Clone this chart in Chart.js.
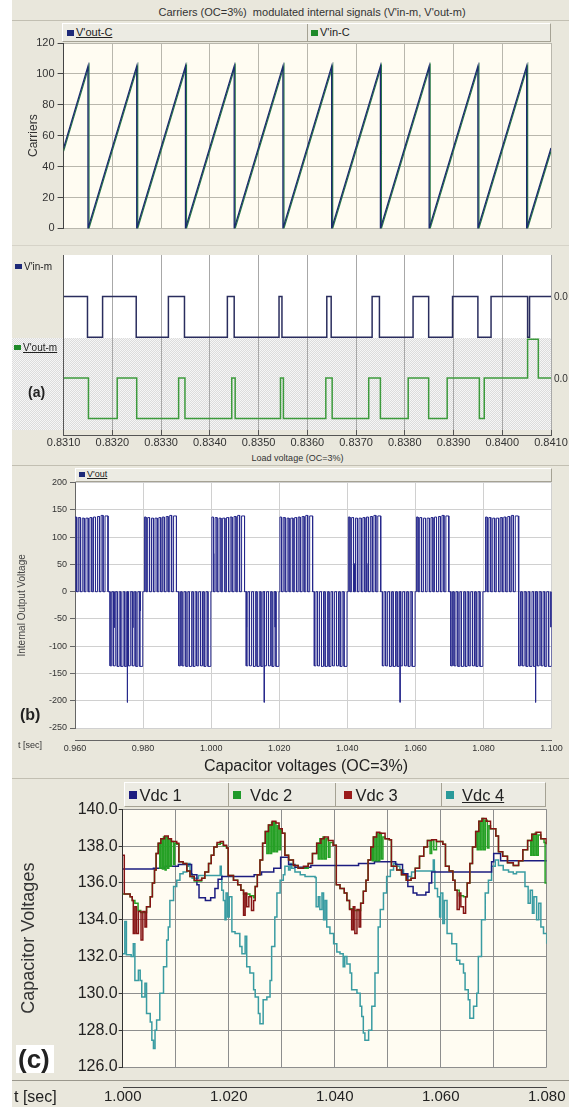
<!DOCTYPE html>
<html>
<head>
<meta charset="utf-8">
<title>Carriers, load voltage and capacitor voltages (OC=3%)</title>
<script src="https://cdn.jsdelivr.net/npm/chart.js@4.4.1/dist/chart.umd.min.js"></script>
<style>
  html, body { margin: 0; padding: 0; background: #fff; overflow: hidden; }
  body { position: relative; width: 569px; height: 1107px; font-family: 'Liberation Sans', Arial, sans-serif; color: #222; }
  .bg { position: absolute; background: #e9e7dc; }
  .hline { position: absolute; height: 1px; background: #c2bfb2; }
  canvas { position: absolute; }
  .legend { position: absolute; background: #ecebe3; box-sizing: border-box;
            border-top: 1px solid #fff; border-left: 1px solid #fff;
            border-bottom: 1px solid #a5a294; border-right: 1px solid #a5a294; }
  .cell { position: absolute; top: 0; bottom: 0; border-right: 1px solid #a5a294; }
  .sw { position: absolute; }
  .txt { position: absolute; white-space: nowrap; line-height: 1; }
  .u { text-decoration: underline; }
  .dots { position: absolute; background: repeating-conic-gradient(#dcdcdc 0 25%, #f6f6f6 0 50%) 0 0 / 2px 2px; }
</style>
</head>
<body>

<!-- panel (a) backgrounds -->
<div class="bg" style="left:12px;top:0;width:557px;height:245px;"></div>
<div class="hline" style="left:12px;top:20px;width:557px;"></div>
<div class="bg" style="left:12px;top:245px;width:557px;height:207px;"></div>
<div class="hline" style="left:12px;top:245px;width:557px;background:#d6d3c8;"></div>
<div style="position:absolute;left:63.6px;top:255px;width:487.4px;height:83px;background:#fff;"></div>
<div class="dots" style="left:12px;top:338px;width:539px;height:92px;"></div>
<div style="position:absolute;left:63.6px;top:435px;width:487.4px;height:1px;background:#555;"></div>

<!-- panel (b) backgrounds -->
<div class="bg" style="left:12px;top:452px;width:557px;height:300px;"></div>
<div class="hline" style="left:12px;top:465px;width:557px;"></div>
<div style="position:absolute;left:75px;top:740px;width:476.6px;height:1px;background:#666;"></div>

<!-- panel (c) backgrounds -->
<div class="bg" style="left:12px;top:752px;width:557px;height:355px;"></div>
<div class="hline" style="left:12px;top:778px;width:557px;"></div>
<div class="hline" style="left:12px;top:1080px;width:557px;background:#9a978c;"></div>
<div style="position:absolute;left:122.7px;top:1087px;width:424px;height:1px;background:#444;"></div>

<canvas id="carriers" width="569" height="208" style="left:0;top:30px;"></canvas>
<canvas id="modulated" width="569" height="200" style="left:0;top:250px;"></canvas>
<canvas id="load" width="569" height="282" style="left:0;top:470px;"></canvas>
<canvas id="caps" width="569" height="312" style="left:0;top:795px;"></canvas>

<!-- panel (a) texts -->
<div class="txt" style="left:62px;width:500px;text-align:center;top:7px;font-size:11px;color:#333;">Carriers (OC=3%)&nbsp; modulated internal signals (V'in-m, V'out-m)</div>
<div class="legend" style="left:62px;top:23px;width:489px;height:19px;">
  <div class="cell" style="left:0;width:244px;"></div>
  <div class="sw" style="left:4px;top:6px;width:7px;height:6px;background:#1e2a78;"></div>
  <div class="txt u" style="left:13px;top:3px;font-size:11px;">V'out-C</div>
  <div class="sw" style="left:248px;top:6px;width:7px;height:6px;background:#1f8a2a;"></div>
  <div class="txt" style="left:257px;top:3px;font-size:11px;">V'in-C</div>
</div>
<div class="sw" style="left:15px;top:264px;width:7px;height:5px;background:#1e2a78;"></div>
<div class="txt" style="left:24px;top:262px;font-size:10px;">V'in-m</div>
<div class="sw" style="left:14px;top:345px;width:7px;height:5px;background:#1f8a2a;"></div>
<div class="txt u" style="left:23px;top:343px;font-size:10px;">V'out-m</div>
<div class="txt" style="left:28px;top:385px;font-size:14px;font-weight:bold;">(a)</div>
<div class="txt" style="left:554px;top:292px;font-size:10px;color:#333;">0.0</div>
<div class="txt" style="left:554px;top:374px;font-size:10px;color:#333;">0.0</div>

<!-- panel (b) texts -->
<div class="txt" style="left:97.5px;width:400px;text-align:center;top:454px;font-size:9px;color:#333;">Load voltage (OC=3%)</div>
<div class="legend" style="left:75px;top:468px;width:477px;height:14px;">
  <div class="sw" style="left:3px;top:3px;width:6px;height:5px;background:#1e2a78;"></div>
  <div class="txt u" style="left:11px;top:1px;font-size:9px;">V'out</div>
</div>
<div class="txt" style="left:20px;top:707px;font-size:16px;font-weight:bold;">(b)</div>
<div class="txt" style="left:18px;top:741px;font-size:9px;color:#333;">t [sec]</div>

<!-- panel (c) texts -->
<div class="txt" style="left:106px;width:400px;text-align:center;top:758px;font-size:16px;color:#222;">Capacitor voltages (OC=3%)</div>
<div class="legend" style="left:123.6px;top:782px;width:422px;height:25px;">
  <div class="cell" style="left:0;width:103.4px;"></div>
  <div class="cell" style="left:103.4px;width:106.8px;"></div>
  <div class="cell" style="left:210.2px;width:106.2px;"></div>
  <div class="sw" style="left:4.4px;top:8px;width:8px;height:8px;background:#1c1c80;"></div>
  <div class="txt" style="left:15px;top:4px;font-size:16.5px;">Vdc 1</div>
  <div class="sw" style="left:108.6px;top:8px;width:8px;height:8px;background:#1f9a2a;"></div>
  <div class="txt" style="left:125.4px;top:4px;font-size:16.5px;">Vdc 2</div>
  <div class="sw" style="left:219px;top:8px;width:8px;height:8px;background:#9a1a1a;"></div>
  <div class="txt" style="left:230.9px;top:4px;font-size:16.5px;">Vdc 3</div>
  <div class="sw" style="left:321.4px;top:8px;width:8px;height:8px;background:#2a9a9a;"></div>
  <div class="txt u" style="left:337.4px;top:4px;font-size:16.5px;">Vdc 4</div>
</div>
<div style="position:absolute;left:16px;top:1045px;width:38px;height:28px;background:#fff;"></div>
<div class="txt" style="left:18px;top:1046px;font-size:26px;font-weight:bold;">(c)</div>
<div class="txt" style="left:14px;top:1089px;font-size:16px;color:#222;">t [sec]</div>

<script>
// ---- (a) carriers, time in seconds ----
const carrierT    = [0.8310, 0.8315, 0.8315, 0.8325, 0.8325, 0.8335, 0.8335, 0.8345, 0.8345, 0.8355, 0.8355,
                     0.8365, 0.8365, 0.8375, 0.8375, 0.8385, 0.8385, 0.8395, 0.8395, 0.8405, 0.8405, 0.8410];
const outCarrierV = [52, 105, 0, 105, 0, 105, 0, 105, 0, 105, 0, 105, 0, 105, 0, 105, 0, 105, 0, 105, 0, 52];
const inCarrierT  = [0.8310, 0.83152, 0.83152, 0.83252, 0.83252, 0.83352, 0.83352, 0.83452, 0.83452, 0.83552, 0.83552,
                     0.83652, 0.83652, 0.83752, 0.83752, 0.83852, 0.83852, 0.83952, 0.83952, 0.84052, 0.84052, 0.8410];
const inCarrierV  = [50, 105, 0, 105, 0, 105, 0, 105, 0, 105, 0, 105, 0, 105, 0, 105, 0, 105, 0, 105, 0, 50];

// ---- (a) modulated signals: edge times and level after each edge ----
const vinT      = [0.8310, 0.83149, 0.83180, 0.83249, 0.83315, 0.83348, 0.83436, 0.83450, 0.83542, 0.83548, 0.83640,
                   0.83649, 0.83733, 0.83748, 0.83817, 0.83849, 0.83898, 0.83950, 0.83977, 0.84052, 0.84056, 0.8410];
const vinLevel  = [3, 2, 3, 2, 3, 2, 3, 2, 3, 2, 3, 2, 3, 2, 3, 2, 3, 2, 3, 2, 3, 3];
const voutT     = [0.8310, 0.83151, 0.83210, 0.83250, 0.83336, 0.83349, 0.83445, 0.83452, 0.83545, 0.83551, 0.83638,
                   0.83651, 0.83726, 0.83750, 0.83807, 0.83849, 0.83887, 0.83953, 0.83963, 0.84052, 0.84074, 0.8410];
const voutLevel = [1, 0, 1, 0, 1, 0, 1, 0, 1, 0, 1, 0, 1, 0, 1, 0, 1, 0, 1, 1.95, 1, 1];

// ---- (b) load voltage: half-cycle blocks and the pulse pattern inside them ----
const blockStart = [0.9600, 0.9703, 0.9804, 0.9905, 1.0002, 1.0103, 1.0202, 1.0303, 1.0403, 1.0503, 1.0603, 1.0704, 1.0806, 1.0904];
const blockEnd   = [0.9697, 0.9799, 0.9898, 0.9999, 1.0098, 1.0199, 1.0298, 1.0399, 1.0498, 1.0599, 1.0698, 1.0798, 1.0902, 1.1000];
const blockSign  = [1, -1, 1, -1, 1, -1, 1, -1, 1, -1, 1, -1, 1, -1];
const pulseOn    = [0.00, 0.10, 0.22, 0.33, 0.45, 0.56, 0.68, 0.79, 0.91];
const pulseOff   = [0.05, 0.16, 0.28, 0.40, 0.51, 0.62, 0.74, 0.85, 1.00];
const posLevel   = [137, 136, 135, 135, 136, 137, 138, 140, 139];
const negLevel   = [136, 136, 137, 137, 137, 136, 136, 137, 137];
const spikeT     = [0.9715, 0.9754, 0.9770, 0.9792, 1.0008, 1.0104, 1.0156, 1.0188, 1.0421, 1.0458, 1.0555, 1.0953, 1.0998];
const spikeV     = [-66, -203, -66, -35, 70, -65, -203, -65, 52, 52, -203, -203, -65];

// ---- (c) capacitor voltages, time in ms after 1.000 s ----
const capT0 = 1.000;
const vdc1Ms = [0, 5.8, 8.0, 10.5, 13.0, 14.0, 14.4, 15.6, 16.6, 17.4,
                18.0, 18.7, 24.8, 26.2, 28.5, 29.8, 31.3, 32.5, 35.5, 44.5,
                47.5, 51.5, 52.8, 53.8, 54.8, 55.5, 57.2, 57.8, 58.3, 69.6,
                70.0, 71.3, 80.0];
const vdc1V  = [136.75, 136.8, 136.9, 137.0, 136.45, 135.9, 135.2, 135.05, 135.2, 135.7,
                136.2, 136.35, 136.45, 136.6, 136.8, 137.4, 137.0, 136.85, 136.95, 137.05,
                137.15, 137.0, 136.5, 135.8, 135.45, 135.35, 135.5, 136.0, 136.6, 137.15,
                137.6, 137.2, 137.2];

const vdc2Ms = [0, 1.4, 1.8, 2.3, 2.9, 3.4, 4.5, 5.2, 5.6, 6.0,
                6.3, 6.7, 7.0, 7.2, 7.5, 7.7, 8.0, 8.2, 8.5, 8.7,
                9.0, 9.2, 9.6, 9.8, 10.2, 10.6, 11.4, 12.1, 12.7, 13.5,
                14.9, 15.5, 16.2, 16.7, 17.2, 17.8, 18.4, 19.0, 19.6, 19.9,
                20.9, 21.7, 22.3, 22.8, 24.0, 24.7, 25.0, 25.4, 25.9, 26.4,
                26.9, 27.2, 27.5, 27.8, 28.1, 28.4, 28.6, 28.9, 29.2, 29.5,
                29.8, 30.1, 30.6, 31.3, 32.2, 33.1, 34.1, 35.0, 35.8, 36.6,
                36.9, 37.2, 37.5, 37.8, 38.1, 38.4, 38.8, 39.1, 39.7, 40.3,
                41.0, 41.8, 42.3, 42.8, 43.5, 44.5, 44.9, 45.4, 45.9, 46.3,
                46.8, 47.1, 47.3, 47.6, 47.9, 48.2, 48.5, 48.8, 49.1, 49.5,
                50.3, 50.7, 51.7, 52.6, 53.5, 54.4, 55.2, 56.0, 56.8, 57.5,
                58.0, 58.3, 58.7, 59.2, 60.4, 60.9, 61.6, 62.3, 62.7, 63.5,
                64.3, 64.7, 65.0, 65.5, 66.0, 66.6, 66.9, 67.2, 67.5, 67.8,
                68.1, 68.4, 68.8, 69.1, 69.4, 70.4, 70.9, 71.7, 72.6, 73.7,
                74.7, 75.5, 76.4, 77.0, 77.2, 77.5, 77.8, 78.1, 78.4, 78.9,
                79.5, 79.7, 80.0];
const vdc2V  = [135.4, 135.25, 135.05, 134.9, 134.5, 134.4, 134.7, 135.25, 136.0, 136.7,
                137.6, 138.15, 136.8, 138.4, 136.75, 138.5, 136.7, 138.5, 136.8, 138.4,
                136.9, 138.25, 137.0, 138.15, 138.1, 137.15, 137.05, 136.65, 136.35, 136.1,
                136.25, 136.6, 137.05, 137.5, 137.95, 138.1, 138.15, 138.0, 137.9, 136.4,
                136.15, 135.9, 135.6, 135.4, 135.3, 135.2, 135.8, 136.45, 137.25, 138.15,
                138.8, 137.6, 139.15, 137.6, 139.3, 137.7, 139.3, 137.7, 139.1, 137.8,
                138.9, 138.7, 137.5, 137.25, 136.95, 136.8, 136.8, 137.05, 137.6, 138.15,
                137.3, 138.4, 137.3, 138.5, 137.3, 138.4, 137.4, 138.2, 138.05, 135.9,
                135.7, 135.45, 135.05, 134.6, 134.5, 134.5, 134.9, 135.55, 136.15, 137.25,
                137.95, 137.2, 138.5, 137.2, 138.7, 137.2, 138.7, 137.3, 138.5, 138.4,
                138.35, 136.9, 136.7, 136.45, 136.15, 136.25, 136.8, 137.45, 137.95, 138.3,
                137.6, 138.35, 137.8, 138.25, 138.1, 136.9, 136.65, 136.15, 135.6, 135.3,
                135.25, 135.25, 136.0, 137.05, 137.95, 138.8, 137.8, 139.35, 137.8, 139.5,
                137.8, 139.4, 137.9, 139.1, 138.95, 138.55, 137.7, 137.45, 137.1, 136.95,
                137.2, 137.8, 138.3, 137.5, 138.65, 137.5, 138.7, 137.5, 138.6, 138.4,
                138.2, 136.0, 136.0];

const vdc3Ms = [0, 0.3, 1.4, 1.8, 2.0, 2.3, 2.6, 2.96, 3.46, 3.8,
                4.2, 4.5, 5.2, 5.6, 6.0, 6.3, 6.7, 7.2, 7.9, 8.6,
                9.2, 10.2, 10.6, 11.4, 12.1, 12.7, 13.5, 14.9, 15.5, 16.2,
                16.7, 17.2, 17.8, 18.4, 19.0, 19.6, 19.9, 20.9, 21.7, 22.3,
                22.8, 23.1, 23.4, 23.8, 24.3, 24.7, 25.0, 25.4, 25.9, 26.4,
                26.9, 27.5, 28.2, 28.9, 29.5, 30.1, 30.6, 31.3, 32.2, 33.1,
                34.1, 35.0, 35.8, 36.6, 37.4, 38.0, 38.8, 39.7, 40.3, 41.0,
                41.8, 42.3, 42.8, 43.2, 43.5, 43.8, 44.2, 44.6, 44.9, 45.4,
                45.9, 46.3, 46.8, 47.3, 47.9, 48.5, 49.5, 50.3, 50.7, 51.7,
                52.6, 53.5, 54.4, 55.2, 56.0, 56.8, 57.5, 58.3, 59.2, 60.4,
                60.9, 61.6, 62.3, 62.7, 63.1, 63.5, 63.8, 64.3, 64.7, 65.0,
                65.5, 66.0, 66.6, 67.2, 67.8, 68.6, 69.4, 70.4, 70.9, 71.7,
                72.6, 73.7, 74.7, 75.5, 76.4, 77.2, 78.0, 78.9, 79.9, 80.0];
const vdc3V  = [137.5, 135.4, 135.25, 135.05, 133.25, 134.7, 133.25, 134.45, 132.9, 134.45,
                133.6, 134.7, 135.25, 136.0, 136.7, 137.6, 138.15, 138.4, 138.55, 138.4,
                138.25, 138.15, 137.15, 137.05, 136.65, 136.35, 136.15, 136.25, 136.6, 137.05,
                137.5, 137.95, 138.2, 138.25, 138.05, 137.9, 136.4, 136.15, 135.9, 135.6,
                134.25, 135.45, 134.7, 135.25, 134.5, 135.05, 135.8, 136.45, 137.25, 138.15,
                138.8, 139.15, 139.35, 139.25, 138.95, 138.7, 137.5, 137.25, 136.95, 136.8,
                136.9, 137.05, 137.6, 138.15, 138.4, 138.5, 138.3, 138.05, 135.9, 135.7,
                135.45, 135.05, 134.55, 133.45, 134.7, 133.25, 134.55, 133.6, 134.9, 135.55,
                136.15, 137.25, 137.95, 138.5, 138.75, 138.7, 138.4, 138.35, 136.9, 136.7,
                136.45, 136.15, 136.25, 136.8, 137.45, 137.95, 138.3, 138.35, 138.25, 138.1,
                136.9, 136.65, 136.15, 135.6, 134.55, 135.45, 134.7, 134.35, 135.25, 136.0,
                137.05, 137.95, 138.8, 139.35, 139.5, 139.35, 138.95, 138.55, 137.7, 137.45,
                137.1, 136.95, 137.2, 137.8, 138.3, 138.65, 138.75, 138.4, 138.15, 138.1];

const vdc4Ms = [0, 0.4, 0.7, 1.6, 2.0, 2.3, 2.96, 3.3, 3.6, 4.2,
                4.5, 5.2, 5.5, 5.8, 6.1, 6.4, 7.0, 7.7, 8.3, 8.6,
                8.9, 9.6, 10.2, 10.8, 11.4, 12.1, 12.4, 12.7, 13.1, 14.3,
                18.4, 18.6, 18.7, 19.0, 19.3, 19.5, 19.8, 20.1, 20.6, 21.2,
                22.1, 22.5, 23.1, 23.4, 24.0, 24.7, 25.0, 25.6, 25.9, 26.5,
                27.2, 27.8, 28.1, 28.7, 29.1, 29.7, 30.3, 30.6, 31.3, 31.6,
                31.9, 32.5, 33.5, 34.4, 36.3, 36.5, 36.9, 37.2, 37.6, 37.9,
                38.2, 38.5, 39.1, 39.8, 40.4, 41.0, 41.6, 41.9, 42.3, 42.9,
                43.2, 44.2, 44.8, 45.1, 45.4, 45.7, 46.4, 47.0, 47.6, 48.2,
                48.6, 49.2, 49.8, 50.5, 51.1, 51.7, 52.3, 53.0, 53.6, 54.5,
                55.2, 58.6, 58.8, 58.9, 59.4, 59.8, 60.0, 60.4, 60.7, 61.2,
                62.1, 63.0, 63.6, 64.3, 64.6, 65.2, 65.5, 66.2, 66.8, 67.1,
                67.7, 68.4, 69.0, 69.6, 70.3, 70.9, 71.8, 72.8, 73.7, 74.3,
                75.9, 76.5, 76.9, 77.3, 77.6, 78.1, 78.5, 78.9, 79.4, 80.0];
const vdc4V  = [132.15, 133.9, 132.1, 132.0, 132.7, 130.7, 131.25, 130.7, 129.8, 130.55,
                128.9, 128.45, 127.45, 127.0, 128.0, 128.55, 130.0, 131.45, 132.9, 133.6,
                135.05, 135.8, 136.15, 136.5, 136.6, 136.9, 137.05, 136.5, 136.25, 136.4,
                136.9, 136.4, 135.6, 135.05, 134.0, 135.45, 134.15, 135.25, 133.35, 133.25,
                132.55, 132.15, 133.1, 131.45, 131.1, 130.2, 129.8, 128.9, 128.35, 129.65,
                129.8, 130.7, 132.55, 134.15, 135.45, 136.15, 136.45, 136.9, 136.7, 137.05,
                136.8, 136.6, 136.45, 136.35, 136.3, 134.7, 135.25, 134.55, 135.45, 134.0,
                135.05, 133.6, 133.25, 132.7, 132.25, 132.15, 131.45, 132.0, 131.6, 131.1,
                130.2, 130.0, 129.3, 128.75, 127.85, 127.45, 128.0, 129.3, 131.1, 133.6,
                134.55, 135.45, 136.35, 136.7, 137.05, 136.9, 136.7, 136.5, 136.35, 136.6,
                136.65, 137.25, 136.65, 135.7, 135.25, 134.15, 135.45, 133.8, 135.05, 133.25,
                132.7, 131.8, 131.6, 131.1, 130.2, 129.65, 128.65, 129.3, 130.0, 132.0,
                134.0, 135.45, 136.15, 136.9, 137.25, 136.95, 136.7, 136.6, 136.5, 136.6,
                135.8, 134.9, 135.6, 134.35, 135.25, 134.0, 134.9, 133.6, 133.25, 132.7];

Chart.defaults.font.family = "'Liberation Sans', Arial, sans-serif";
Chart.defaults.color = '#333';
Chart.defaults.animation = false;
Chart.defaults.responsive = false;
Chart.defaults.plugins.legend.display = false;
Chart.defaults.plugins.tooltip.enabled = false;
Chart.defaults.elements.point.radius = 0;
Chart.defaults.elements.line.tension = 0;

// fills the plot area before the grid is drawn
const plotBg = {
    id: 'plotBg',
    beforeDraw(chart, args, opts) {
        if (!opts.color) return;
        const a = chart.chartArea;
        const ctx = chart.ctx;
        ctx.save();
        ctx.fillStyle = opts.color;
        ctx.fillRect(a.left, a.top, a.right - a.left, a.bottom - a.top);
        ctx.restore();
    }
};

function pts(ts, vs) {
    return ts.map((t, i) => ({ x: t, y: vs[i] }));
}
function capPts(ms, vs) {
    return ms.map((m, i) => ({ x: capT0 + m / 1000, y: vs[i] }));
}

// (b) build the pulse train from the blocks
const loadPts = [];
blockStart.forEach((t0, i) => {
    const len = blockEnd[i] - t0;
    const levels = blockSign[i] > 0 ? posLevel : negLevel;
    loadPts.push({ x: t0, y: 0 });
    pulseOn.forEach((f, k) => {
        const a = t0 + f * len;
        const b = t0 + pulseOff[k] * len;
        const v = blockSign[i] * levels[k];
        loadPts.push({ x: a, y: 0 }, { x: a, y: v }, { x: b, y: v }, { x: b, y: 0 });
    });
});
const spikePts = [];
spikeT.forEach((t, i) => {
    spikePts.push({ x: t, y: 0 }, { x: t, y: spikeV[i] }, { x: t, y: null });
});

// ---------- (a) carriers ----------
new Chart(document.getElementById('carriers'), {
    type: 'line',
    data: {
        datasets: [
            { label: "V'out-C", data: pts(carrierT, outCarrierV), borderColor: '#1b2a6e', borderWidth: 1.3 },
            { label: "V'in-C", data: pts(inCarrierT, inCarrierV), borderColor: '#2a7a48', borderWidth: 1.3 }
        ]
    },
    options: {
        layout: { padding: { left: 22, right: 18, top: 13, bottom: 0 } },
        scales: {
            x: {
                type: 'linear', min: 0.831, max: 0.841,
                ticks: { display: false, stepSize: 0.001 },
                grid: { color: '#b9b7ad', drawTicks: false },
                border: { display: false },
                afterFit: s => { s.height = 5; }
            },
            y: {
                min: 0, max: 120,
                ticks: { stepSize: 20, font: { size: 11 }, color: '#333', padding: 3 },
                grid: { color: '#b9b7ad', tickLength: 6, tickColor: '#444' },
                border: { color: '#444' },
                title: { display: true, text: 'Carriers', font: { size: 12 }, color: '#333' },
                afterFit: s => { s.width = 41.6; }
            }
        },
        plugins: { plotBg: { color: '#fffcf2' } }
    },
    plugins: [plotBg]
});

// ---------- (a) modulated signals ----------
new Chart(document.getElementById('modulated'), {
    type: 'line',
    data: {
        datasets: [
            { label: "V'in-m", data: pts(vinT, vinLevel), borderColor: '#2a2d5e', borderWidth: 1.5, stepped: true },
            { label: "V'out-m", data: pts(voutT, voutLevel), borderColor: '#3c9a3c', borderWidth: 1.5, stepped: true }
        ]
    },
    options: {
        layout: { padding: { left: 0, right: 18, top: 5, bottom: 0 } },
        scales: {
            x: {
                type: 'linear', min: 0.831, max: 0.841,
                ticks: { stepSize: 0.001, callback: v => v.toFixed(4), font: { size: 11 }, color: '#333',
                         padding: 0, maxRotation: 0, autoSkip: false },
                grid: { color: '#a8a8a8', tickLength: 6, tickColor: '#555' },
                border: { display: false },
                afterFit: s => { s.height = 20; }
            },
            y: {
                min: -0.28, max: 4.02,
                ticks: { display: false },
                grid: { drawOnChartArea: false, drawTicks: false },
                border: { color: '#555' },
                afterFit: s => { s.width = 63.6; }
            }
        }
    }
});

// ---------- (b) load voltage ----------
new Chart(document.getElementById('load'), {
    type: 'line',
    data: {
        datasets: [
            { label: "V'out", data: loadPts, borderColor: '#26288c', borderWidth: 1 },
            { label: 'spikes', data: spikePts, borderColor: '#26288c', borderWidth: 1, spanGaps: false }
        ]
    },
    options: {
        layout: { padding: { left: 12, right: 17.4, top: 12.7, bottom: 0 } },
        scales: {
            x: {
                type: 'linear', min: 0.96, max: 1.10,
                ticks: { stepSize: 0.02, callback: v => v.toFixed(3), font: { size: 9 }, color: '#333',
                         padding: 3, maxRotation: 0, autoSkip: false },
                grid: { color: '#d0d0d0', tickLength: 12, tickColor: 'rgba(0,0,0,0)' },
                border: { display: false },
                afterFit: s => { s.height = 24; }
            },
            y: {
                min: -250, max: 200,
                ticks: { stepSize: 50, font: { size: 9 }, color: '#333', padding: 3 },
                grid: { color: '#d0d0d0', tickLength: 5, tickColor: '#666' },
                border: { color: '#666' },
                title: { display: true, text: 'Internal Output Voltage', font: { size: 10 }, color: '#444' },
                afterFit: s => { s.width = 63; }
            }
        },
        plugins: { plotBg: { color: '#ffffff' } }
    },
    plugins: [plotBg]
});

// ---------- (c) capacitor voltages ----------
// order: red over green, navy over teal
new Chart(document.getElementById('caps'), {
    type: 'line',
    data: {
        datasets: [
            { label: 'Vdc 1', data: capPts(vdc1Ms, vdc1V), borderColor: '#1c1c80', borderWidth: 1.5, stepped: true, order: 2 },
            { label: 'Vdc 2', data: capPts(vdc2Ms, vdc2V), borderColor: '#25a025', borderWidth: 1.5, stepped: true, order: 1 },
            { label: 'Vdc 3', data: capPts(vdc3Ms, vdc3V), borderColor: '#861414', borderWidth: 1.5, stepped: true, order: 0 },
            { label: 'Vdc 4', data: capPts(vdc4Ms, vdc4V), borderColor: '#3a9ca2', borderWidth: 1.5, stepped: true, order: 3 }
        ]
    },
    options: {
        layout: { padding: { left: 14, right: 22.3, top: 14.3, bottom: 0 } },
        scales: {
            x: {
                type: 'linear', min: 1.0, max: 1.08,
                ticks: { stepSize: 0.01, font: { size: 15 }, color: '#222', padding: 3, maxRotation: 0, autoSkip: false,
                         callback: v => (Math.round((v - 1) * 1000) % 20 === 0 ? v.toFixed(3) : '') },
                grid: { color: '#8e8e8e', tickLength: 18, tickColor: 'rgba(0,0,0,0)' },
                border: { display: false },
                afterFit: s => { s.height = 40; }
            },
            y: {
                min: 126, max: 140,
                ticks: { stepSize: 2, callback: v => v.toFixed(1), font: { size: 16 }, color: '#222', padding: 1 },
                grid: { color: '#8e8e8e', tickLength: 4, tickColor: '#333' },
                border: { color: '#333' },
                title: { display: true, text: 'Capacitor Voltages', font: { size: 18 }, color: '#333' },
                afterFit: s => { s.width = 108.7; }
            }
        },
        plugins: { plotBg: { color: '#fffcf2' } }
    },
    plugins: [plotBg]
});
</script>
</body>
</html>
